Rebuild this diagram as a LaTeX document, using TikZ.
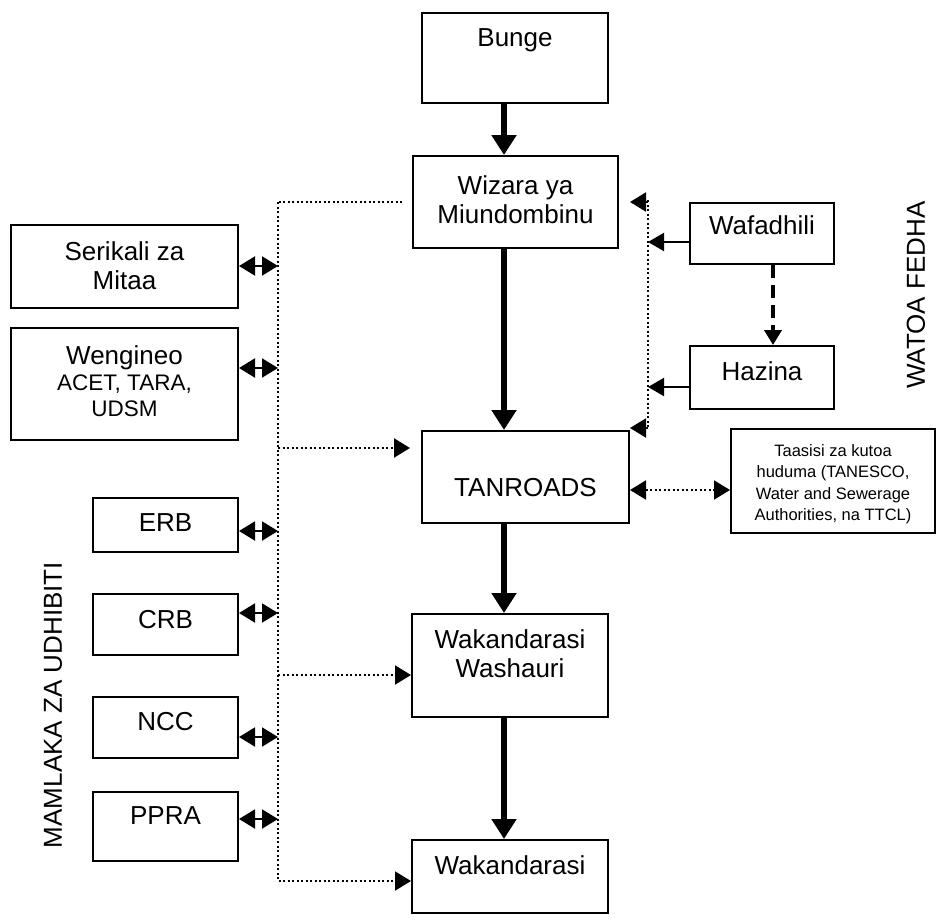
\documentclass[tikz,border=0pt]{standalone}
\usepackage{fontspec}
\setmainfont{Liberation Sans}
\usepackage{tikz}
\usetikzlibrary{arrows.meta, positioning}

\newcommand{\cellfont}{\fontsize{26}{29}\selectfont}
\newcommand{\subfont}{\fontsize{22.5}{26}\selectfont}
\newcommand{\notefont}{\fontsize{16.5}{21.5}\selectfont}
\newcommand{\rows}[1]{\begin{tabular}[t]{@{}c@{}}#1\end{tabular}}

\begin{document}
\begin{tikzpicture}[
    x=1pt, y=-1pt,
    cell/.style={
        rectangle,
        draw=black,
        line width=2pt,
        inner ysep=0pt,
        anchor=north west,
        font=\cellfont
    },
    mainflow/.style={
        -{Triangle[length=20pt,width=24pt]},
        line width=5.5pt
    },
    twoway/.style={
        {Triangle[length=16pt,width=19pt]}-{Triangle[length=16pt,width=19pt]},
        line width=2pt
    },
    fund/.style={
        -{Triangle[length=16pt,width=18pt]},
        line width=2pt
    },
    dotline/.style={
        line width=2pt,
        dash pattern=on 2pt off 2.5pt
    },
    dotarrow/.style={
        dotline,
        -{Triangle[length=16pt,width=19pt]}
    },
    dashflow/.style={
        -{Triangle[length=15pt,width=17pt]},
        line width=4.5pt,
        dash pattern=on 13pt off 7pt
    }
]
    \useasboundingbox (0,0) rectangle (945,921);

    % main chain
    \node[cell, minimum width=186pt, text height=33pt, text depth=57pt] (bunge) at (421,12) {Bunge};
    \node[cell, minimum width=205pt, text height=38pt, text depth=54pt] (wizara) at (412,155) {\rows{Wizara ya\\Miundombinu}};
    \node[cell, minimum width=207pt, text height=65pt, text depth=27pt] (tanroads) at (421,430) {TANROADS};
    \node[cell, minimum width=196pt, text height=34pt, text depth=69pt] (washauri) at (411,613) {\rows{Wakandarasi\\Washauri}};
    \node[cell, minimum width=196pt, text height=34pt, text depth=39pt] (wakandarasi) at (411,839) {Wakandarasi};

    % funders
    \node[cell, minimum width=144pt, text height=31pt, text depth=30pt] (wafadhili) at (689,202) {Wafadhili};
    \node[cell, minimum width=144pt, text height=34pt, text depth=29pt] (hazina) at (689,345) {Hazina};
    \node[cell, minimum width=204pt, text height=27pt, text depth=77pt, font=\notefont] (taasisi) at (730,428)
        {\rows{Taasisi za kutoa\\huduma (TANESCO,\\Water and Sewerage\\Authorities, na TTCL)}};

    % left side
    \node[cell, minimum width=227pt, text height=35pt, text depth=48pt] (serikali) at (10,224) {\rows{Serikali za\\Mitaa}};
    \node[cell, minimum width=227pt, text height=36pt, text depth=76pt] (wengineo) at (10,327)
        {\rows{Wengineo\\[-3pt]{\subfont ACET, TARA,}\\[-3pt]{\subfont UDSM}}};
    \node[cell, minimum width=145pt, text height=33pt, text depth=21pt] (erb) at (92,497) {ERB};
    \node[cell, minimum width=145pt, text height=34pt, text depth=27pt] (crb) at (92,593) {CRB};
    \node[cell, minimum width=145pt, text height=33pt, text depth=28pt] (ncc) at (92,696) {NCC};
    \node[cell, minimum width=145pt, text height=32pt, text depth=37pt] (ppra) at (92,791) {PPRA};

    \node[rotate=90, font=\cellfont] (mamlaka) at (53,705) {MAMLAKA ZA UDHIBITI};
    \node[rotate=90, font=\cellfont] (watoa) at (916,295) {WATOA FEDHA};

    \coordinate (spine) at (504,0);
    \coordinate (lbus) at (278,202);
    \coordinate (rbus) at (648,200);

    \draw[mainflow] (bunge.south -| spine) -- (wizara.north -| spine);
    \draw[mainflow] (wizara.south -| spine) -- (tanroads.north -| spine);
    \draw[mainflow] (tanroads.south -| spine) -- (washauri.north -| spine);
    \draw[mainflow] (washauri.south -| spine) -- (wakandarasi.north -| spine);

    % left dotted bus
    \draw[dotline, shorten <=10pt] (wizara.west |- lbus) -- (lbus);
    \draw[dotarrow] (lbus) -- (lbus |- 0,881) -- (wakandarasi.west |- 0,881);
    \draw[dotarrow, shorten >=11pt] (lbus |- 0,448) -- (tanroads.west |- 0,448);
    \draw[dotarrow] (lbus |- 0,675) -- (washauri.west |- 0,675);
    \foreach \src/\yy in {serikali/266, wengineo/368, erb/531, crb/613, ncc/737, ppra/819}
        \draw[twoway] (\src.east |- 0,\yy) -- (lbus |- 0,\yy);

    % right dotted bus
    \draw[dotline] (rbus) -- (rbus |- 0,428);
    \draw[dotarrow, shorten >=11pt] (rbus |- 0,202) -- (wizara.east |- 0,202);
    \draw[dotarrow] (rbus |- 0,428) -- (tanroads.east |- 0,428);
    \draw[fund] (wafadhili.west |- 0,242) -- (rbus |- 0,242);
    \draw[fund] (hazina.west |- 0,387) -- (rbus |- 0,387);
    \draw[dashflow] (wafadhili.south -| 773,0) -- (hazina.north -| 773,0);
    \draw[dotarrow, {Triangle[length=16pt,width=19pt]}-{Triangle[length=16pt,width=19pt]}] (tanroads.east |- 0,490) -- (taasisi.west |- 0,490);
\end{tikzpicture}
\end{document}
